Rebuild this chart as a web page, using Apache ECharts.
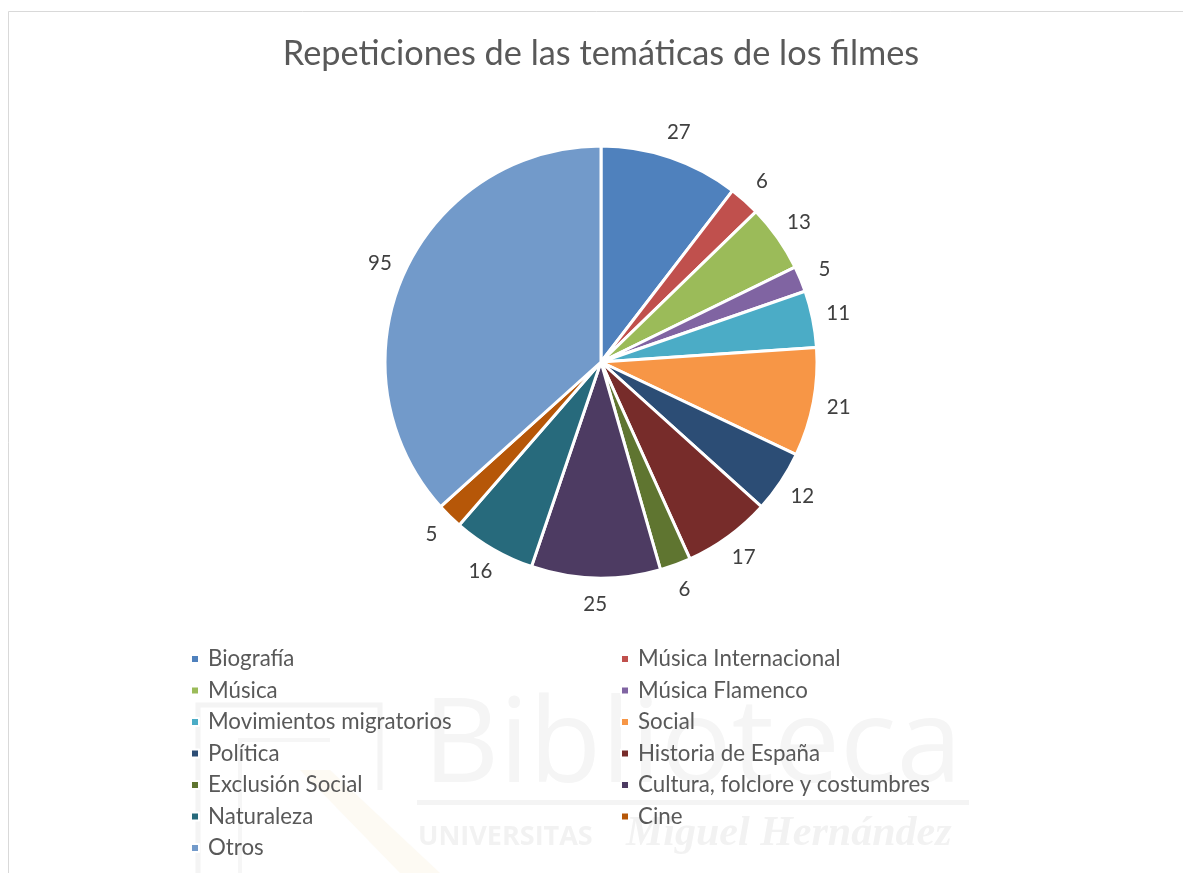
<!DOCTYPE html>
<html>
<head>
<meta charset="utf-8">
<script src="https://cdn.jsdelivr.net/npm/echarts@6/dist/echarts.min.js"></script>
<style>
  html, body { margin: 0; padding: 0; background: #fff; }
  #main { width: 1183px; height: 873px; }
</style>
</head>
<body>
<div id="main"></div>
<script>
  // datos del gráfico
  const temas = ['Biografía', 'Música Internacional', 'Música', 'Música Flamenco',
    'Movimientos migratorios', 'Social', 'Política', 'Historia de España',
    'Exclusión Social', 'Cultura, folclore y costumbres', 'Naturaleza', 'Cine', 'Otros'];
  const repeticiones = [27, 6, 13, 5, 11, 21, 12, 17, 6, 25, 16, 5, 95];
  const colores = ['#4F81BD', '#C0504D', '#9BBB59', '#8064A2', '#4BACC6', '#F79646',
    '#2C4D75', '#772C2A', '#5F7530', '#4D3B62', '#276A7C', '#B65708', '#729ACA'];

  const FONT = 'Lato, "Open Sans", sans-serif';
  const cx = 601, cy = 362, radio = 216;

  // ángulo medio de cada sector (desde arriba, sentido horario)
  const total = repeticiones.reduce((a, b) => a + b, 0);
  let acum = 0;
  const medios = repeticiones.map(v => {
    const m = (acum + v / 2) / total * Math.PI * 2;
    acum += v;
    return m;
  });

  const leyenda = (lista, izq) => ({
    orient: 'vertical',
    left: izq,
    top: 648,
    padding: 0,
    icon: 'rect',
    itemWidth: 8,
    itemHeight: 8,
    itemGap: 9.5,
    data: lista,
    textStyle: { fontFamily: FONT, fontSize: 22.3, color: '#595959', lineHeight: 22, padding: [0, 0, 0, 4] }
  });

  let chart = echarts.init(document.getElementById('main'));
  chart.setOption({
    backgroundColor: '#fff',
    textStyle: { fontFamily: FONT },
    title: {
      text: 'Repeticiones de las temáticas de los filmes',
      left: 601,
      top: 37,
      padding: 0,
      textAlign: 'center',
      textStyle: { fontFamily: FONT, fontSize: 34.3, fontWeight: 'normal', color: '#595959' }
    },
    graphic: [
      // marco del área del gráfico
      { type: 'rect', shape: { x: 8.5, y: 11.5, width: 1200, height: 900 },
        style: { fill: 'none', stroke: '#d9d9d9', lineWidth: 1 }, z: -10 },
      // marca de agua de la biblioteca
      { type: 'text', x: 423, y: 748, z: -9,
        style: { text: 'Biblioteca', fontFamily: '"Open Sans", sans-serif', fontSize: 118, fill: '#f5f5f5',
          verticalAlign: 'middle' } },
      { type: 'rect', shape: { x: 417, y: 800, width: 552, height: 5 }, style: { fill: '#f4f4f4' }, z: -9 },
      { type: 'text', x: 418, y: 837, z: -9,
        style: { text: 'UNIVERSITAS', fontFamily: '"Open Sans", sans-serif', fontSize: 27, fontWeight: 'bold', fill: '#f2f2f2',
          verticalAlign: 'middle' } },
      { type: 'text', x: 626, y: 834, z: -9,
        style: { text: 'Miguel Hernández', fontFamily: 'Liberation Serif', fontSize: 42, fontStyle: 'italic', fontWeight: 'bold', fill: '#f2f2f2',
          verticalAlign: 'middle' } },
      { type: 'polyline', shape: { points: [[198, 873], [198, 705], [380, 705], [380, 790]] },
        style: { stroke: '#f4f4f4', lineWidth: 5, fill: 'none' }, z: -9 },
      { type: 'polyline', shape: { points: [[240, 873], [240, 740], [330, 740]] },
        style: { stroke: '#f6f6f6', lineWidth: 4, fill: 'none' }, z: -9 },
      { type: 'polygon', shape: { points: [[300, 770], [330, 770], [440, 873], [400, 873]] },
        style: { fill: '#fdfaf3' }, z: -9 }
    ],
    legend: [
      leyenda(temas.filter((t, i) => i % 2 === 0), 190),
      leyenda(temas.filter((t, i) => i % 2 === 1), 620)
    ],
    series: [{
      name: 'Repeticiones',
      type: 'pie',
      center: [cx, cy],
      radius: radio,
      startAngle: 90,
      clockwise: true,
      animation: false,
      itemStyle: { borderColor: '#fff', borderWidth: 3 },
      label: {
        show: true,
        position: 'outside',
        formatter: '{c}',
        fontFamily: FONT,
        fontSize: 20.5,
        color: '#404040'
      },
      labelLine: { show: false, length: 8, length2: 0 },
      // etiquetas centradas fuera del borde, como en Excel
      labelLayout: function (params) {
        const a = medios[params.dataIndex];
        const r = radio + 26;
        return {
          x: cx + r * Math.sin(a),
          y: cy - r * Math.cos(a),
          align: 'center',
          verticalAlign: 'middle'
        };
      },
      data: temas.map((t, i) => ({ name: t, value: repeticiones[i], itemStyle: { color: colores[i] } }))
    }]
  });
</script>
</body>
</html>
